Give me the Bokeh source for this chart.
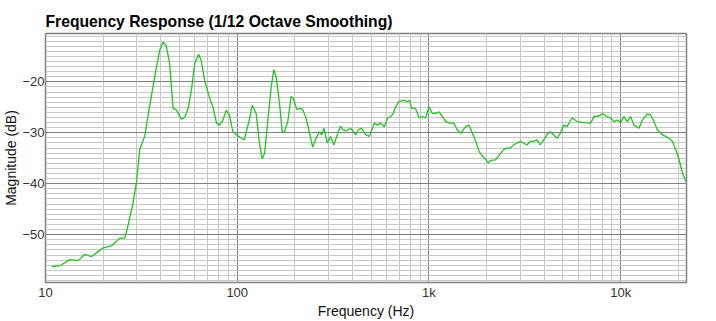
from bokeh.plotting import figure
from bokeh.models import Range1d, FixedTicker
from bokeh.embed import file_html
from bokeh.resources import INLINE

freq = [10.74, 11.9, 13.4, 14.8, 16.0, 17.4, 20.0, 22.1, 24.4, 25.9, 26.9, 28.6, 29.8, 31.0, 32.9,
        35.0, 37.1, 39.4, 41.0, 42.6, 44.4, 46.3, 48.1, 49.0, 51.1, 53.2, 55.5, 57.7, 60.0, 62.9,
        64.9, 67.6, 71.8, 74.7, 78.0, 80.9, 84.2, 87.6, 91.0, 95.0, 100.0, 108.8, 115.6, 119.7,
        125.5, 130.6, 135.0, 139.0, 144.5, 150.4, 155.3, 159.7, 166.2, 171.7, 176.5, 183.6, 190.9,
        196.0, 204.5, 215.4, 219.9, 228.5, 237.8, 247.5, 257.6, 268.0, 276.0, 283.3, 294.9, 307.0,
        319.3, 332.4, 340.0, 346.0, 355.0, 370.0, 390.6, 415.0, 428.0, 445.0, 469.0, 489.0, 519.0,
        540.0, 560.0, 585.0, 609.0, 632.0, 652.0, 670.0, 698.0, 741.0, 770.0, 792.0, 811.0, 850.0,
        890.0, 925.0, 961.0, 1000.0, 1041.0, 1084.0, 1129.0, 1175.0, 1222.0, 1294.0, 1347.0,
        1404.0, 1462.0, 1555.0, 1618.0, 1686.0, 1756.0, 1828.0, 1904.0, 1982.0, 2040.0, 2105.0,
        2220.0, 2310.0, 2455.0, 2555.0, 2654.0, 2763.0, 2875.0, 2994.0, 3115.0, 3243.0, 3377.0,
        3515.0, 3658.0, 3808.0, 3964.0, 4124.0, 4294.0, 4468.0, 4650.0, 4842.0, 5041.0, 5248.0,
        5582.0, 5935.0, 6436.0, 6976.0, 7262.0, 7720.0, 8047.0, 8380.0, 8872.0, 9240.0, 9620.0,
        10000.0, 10410.0, 10830.0, 11270.0, 11730.0, 12460.0, 12970.0, 13770.0, 14340.0, 14920.0,
        15540.0, 16520.0, 17190.0, 17890.0, 18620.0, 19380.0, 20170.0, 21000.0, 21860.0]

magnitude = [-56.3, -56.1, -54.9, -55.1, -53.9, -54.3, -52.6, -52.2, -50.7, -50.7, -48.3, -43.8, -39.8,
             -33.3, -30.7, -24.6, -19.0, -13.8, -12.2, -12.8, -16.4, -25.2, -25.5, -26.0, -27.3,
             -27.0, -25.2, -21.6, -16.4, -14.6, -15.8, -19.7, -23.2, -24.9, -28.1, -28.5, -27.5,
             -25.6, -26.5, -29.8, -30.5, -31.4, -27.5, -24.6, -26.2, -32.0, -35.1, -34.0, -27.5,
             -21.0, -17.6, -19.0, -24.2, -29.8, -29.8, -27.8, -22.9, -23.2, -25.4, -25.2, -25.5,
             -27.1, -29.8, -32.8, -31.1, -29.8, -30.4, -29.1, -32.0, -30.7, -32.4, -30.4, -29.4,
             -28.7, -29.4, -29.6, -29.1, -30.4, -29.4, -29.1, -30.4, -30.7, -28.1, -28.5, -28.1,
             -28.8, -27.1, -26.8, -26.2, -24.9, -23.9, -23.6, -23.9, -23.6, -25.2, -25.2, -27.1,
             -26.8, -27.1, -24.9, -26.2, -26.2, -25.9, -26.8, -27.8, -28.1, -28.1, -29.4, -30.1,
             -28.8, -28.5, -30.1, -31.7, -33.7, -34.6, -35.3, -35.9, -35.4, -35.3, -34.6, -33.3,
             -33.0, -33.0, -32.4, -32.0, -31.7, -32.0, -32.4, -31.7, -31.7, -31.4, -32.4, -31.4,
             -30.4, -29.8, -30.4, -31.1, -30.1, -28.5, -28.8, -27.1, -27.8, -28.0, -28.1, -26.8,
             -26.7, -26.2, -26.7, -27.1, -27.8, -27.5, -28.0, -26.8, -27.8, -26.8, -28.5, -29.1,
             -27.5, -26.3, -26.5, -27.8, -29.4, -30.4, -30.7, -31.1, -31.7, -33.3, -35.3, -37.9,
             -39.5]

x_major = [10, 100, 1000, 10000]
x_labels = ["10", "100", "1k", "10k"]
x_minor = [m * d for d in (10, 100, 1000) for m in range(2, 10)] + [20000]
y_major = [-50, -40, -30, -20]
y_minor = list(range(-59, -10))

FONT = "Liberation Sans"

p = figure(width=716, height=321, x_axis_type="log",
           x_range=Range1d(10, 22050), y_range=Range1d(-59.4, -10.5),
           output_backend="svg", toolbar_location=None,
           min_border_left=44, min_border_right=30, min_border_top=33, min_border_bottom=38)

p.line(freq, magnitude, line_color="#22c422", line_width=1.3)

p.title.text = "Frequency Response (1/12 Octave Smoothing)"
p.title.text_font = FONT
p.title.text_font_style = "bold"
p.title.text_font_size = "15.7px"
p.title.text_color = "#000000"
p.title.align = "left"
p.title.offset = 0
p.title.standoff = 7

p.outline_line_color = "#808080"
p.outline_line_width = 1.5

p.xaxis.ticker = FixedTicker(ticks=x_major, minor_ticks=x_minor)
p.xaxis.major_label_overrides = {t: l for t, l in zip(x_major, x_labels)}
p.yaxis.ticker = FixedTicker(ticks=y_major, minor_ticks=y_minor)

for ax in (p.xaxis, p.yaxis):
    ax.axis_line_color = None
    ax.major_tick_line_color = None
    ax.minor_tick_line_color = None
    ax.major_tick_out = 0
    ax.major_tick_in = 0
    ax.minor_tick_out = 0
    ax.minor_tick_in = 0
    ax.major_label_text_font = FONT
    ax.major_label_text_font_size = "13px"
    ax.major_label_text_color = "#333333"
    ax.axis_label_text_font = FONT
    ax.axis_label_text_font_size = "14px"
    ax.axis_label_text_font_style = "normal"
    ax.axis_label_text_color = "#111111"
    ax.axis_label_standoff = 0

p.xaxis.major_label_standoff = 2
p.yaxis.major_label_standoff = 1
p.xaxis.axis_label = "Frequency (Hz)"
p.yaxis.axis_label = "Magnitude (dB)"

for g in (p.xgrid, p.ygrid):
    g.grid_line_color = "#808080"
    g.grid_line_width = 1
    g.minor_grid_line_color = "#c8c8c8"
    g.minor_grid_line_width = 1

open("out.html", "w").write(file_html(p, INLINE))
